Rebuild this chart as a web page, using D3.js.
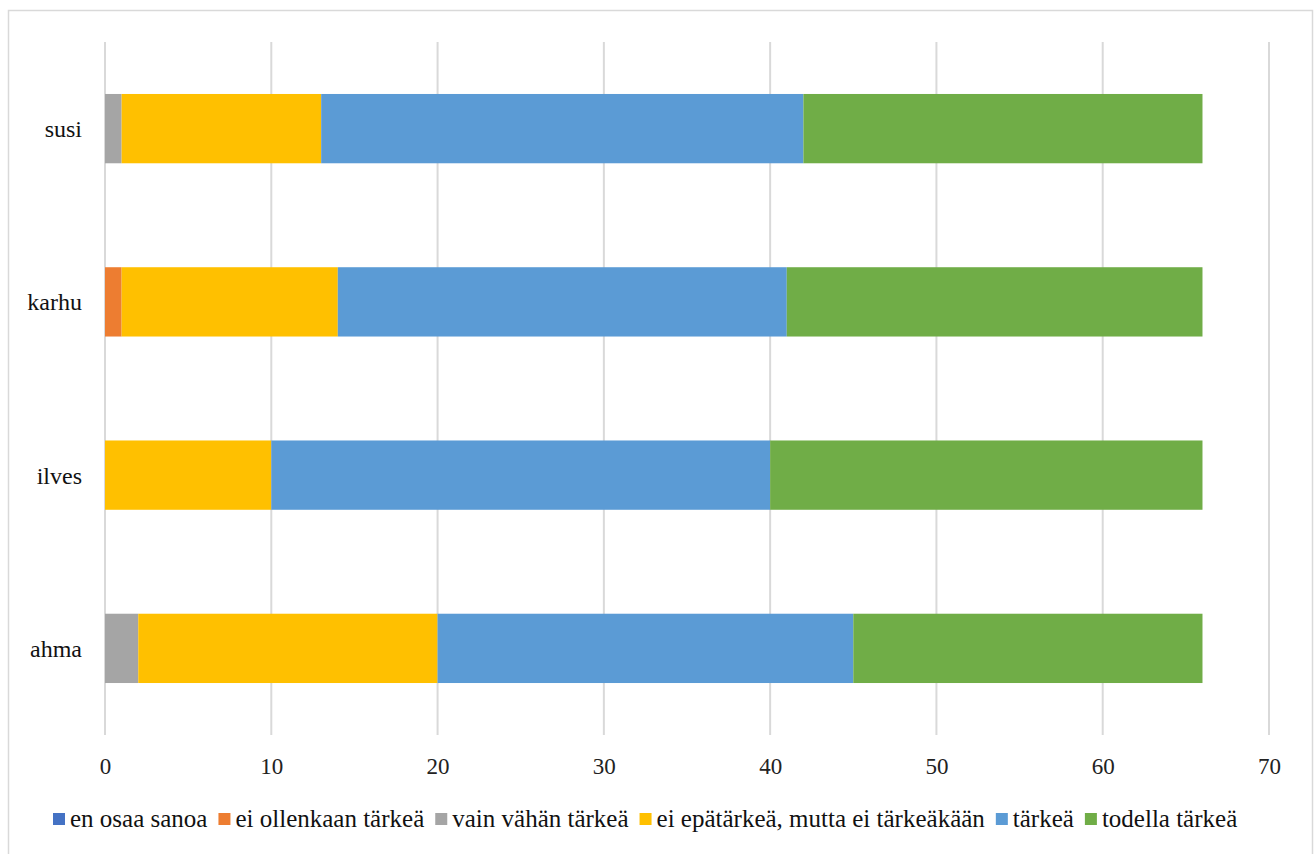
<!DOCTYPE html>
<html><head><meta charset="utf-8">
<script src="https://cdn.jsdelivr.net/npm/d3@7"></script>
<style>body{margin:0;background:#fff}svg{display:block}</style>
</head><body>
<script>
const categories = ["susi", "karhu", "ilves", "ahma"];
const seriesNames = ["en osaa sanoa", "ei ollenkaan tärkeä", "vain vähän tärkeä", "ei epätärkeä, mutta ei tärkeäkään", "tärkeä", "todella tärkeä"];
const seriesColors = ["#4472C4", "#ED7D31", "#A5A5A5", "#FFC000", "#5B9BD5", "#70AD47"];
const enOsaaSanoa = [0, 0, 0, 0];
const eiOllenkaan = [0, 1, 0, 0];
const vainVahan = [1, 0, 0, 2];
const eiEpatarkea = [12, 13, 10, 18];
const tarkea = [29, 27, 30, 25];
const todellaTarkea = [24, 25, 26, 21];
const xTicks = [0, 10, 20, 30, 40, 50, 60, 70];

const seriesValues = [enOsaaSanoa, eiOllenkaan, vainVahan, eiEpatarkea, tarkea, todellaTarkea];
const FONT = "Liberation Serif";
const W = 1315, H = 854;
const svg = d3.select("body").append("svg").attr("width", W).attr("height", H);
svg.append("rect").attr("x", 8.5).attr("y", 10.5).attr("width", 1304).attr("height", 860)
  .attr("fill", "#fff").attr("stroke", "#d9d9d9").attr("stroke-width", 1.5);

const x = d3.scaleLinear().domain([0, 70]).range([105, 1269]);
const y = d3.scaleBand().domain(categories).range([42, 735]).paddingInner(0.6).paddingOuter(0.3);

// gridlines
svg.append("g").selectAll("line").data(xTicks).join("line")
  .attr("x1", d => x(d)).attr("x2", d => x(d)).attr("y1", 42).attr("y2", 735)
  .attr("stroke", "#d9d9d9").attr("stroke-width", 2);

// stacked data
const rows = categories.map((c, i) => {
  const o = {cat: c};
  seriesNames.forEach((s, j) => o[s] = seriesValues[j][i]);
  return o;
});
const stack = d3.stack().keys(seriesNames)(rows);
svg.append("g").selectAll("g").data(stack).join("g")
  .attr("fill", (d, i) => seriesColors[i])
  .selectAll("rect").data(d => d).join("rect")
  .attr("x", d => x(d[0])).attr("width", d => x(d[1]) - x(d[0]))
  .attr("y", d => y(d.data.cat)).attr("height", y.bandwidth());

// x axis labels
const xa = d3.axisBottom(x).tickValues(xTicks).tickSize(0).tickPadding(0);
const gx = svg.append("g").attr("transform", "translate(0,774)").call(xa);
gx.select(".domain").remove();
gx.attr("font-family", FONT).attr("font-size", 23);
gx.selectAll("text").attr("dy", null).attr("y", 0)
  .style("font-family", FONT).style("font-size", "23px").attr("fill", "#222");

// y axis labels
const ya = d3.axisLeft(y).tickSize(0).tickPadding(23);
const gy = svg.append("g").attr("transform", "translate(105,0)").call(ya);
gy.select(".domain").remove();
gy.attr("font-family", FONT).attr("font-size", 24);
gy.selectAll("text").attr("dy", null).attr("y", 8.5)
  .style("font-family", FONT).style("font-size", "24px").attr("fill", "#111");

// legend
const lg = svg.append("g");
let cx = 53;
seriesNames.forEach((s, i) => {
  lg.append("rect").attr("x", cx).attr("y", 813).attr("width", 12).attr("height", 12).attr("fill", seriesColors[i]);
  const t = lg.append("text").attr("x", cx + 17).attr("y", 827)
    .style("font-family", FONT).style("font-size", "25px").attr("fill", "#111").text(s);
  cx += 17 + t.node().getComputedTextLength() + 11;
});
</script>
</body></html>
